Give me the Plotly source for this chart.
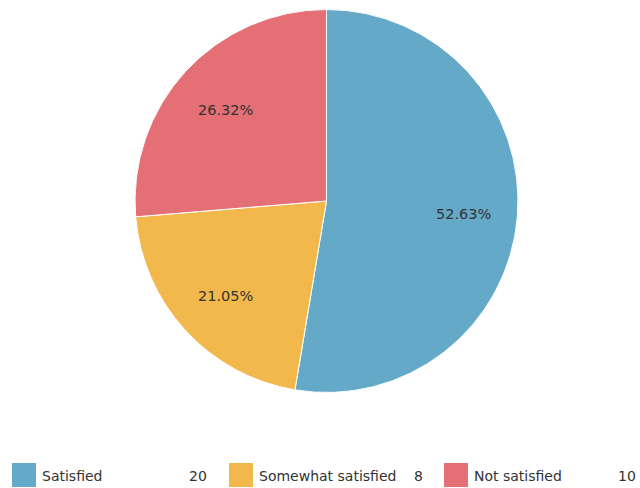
import math
import plotly.graph_objects as go

labels = ["Satisfied", "Somewhat satisfied", "Not satisfied"]
values = [20, 8, 10]
colors = ["#64a9c8", "#f2b84b", "#e46f74"]

W, H = 640, 488
cx, cy, r = 326.5, 201, 191.5

fig = go.Figure(go.Pie(
    labels=labels, values=values, sort=False, direction="clockwise", rotation=0,
    marker=dict(colors=colors, line=dict(color="white", width=1)),
    textinfo="none",
    domain=dict(x=[(cx - r) / W, (cx + r) / W], y=[1 - (cy + r) / H, 1 - (cy - r) / H]),
    showlegend=False, hoverinfo="label+value+percent",
))

annotations = []
shapes = []

# percentage labels placed along each slice's mid-angle
total = sum(values)
cum = 0
for v in values:
    mid = (cum + v / 2) / total * 2 * math.pi
    cum += v
    px = cx + 0.72 * r * math.sin(mid)
    py = cy - 0.72 * r * math.cos(mid)
    annotations.append(dict(text=f"{v / total * 100:.2f}%", xref="paper", yref="paper",
                            x=px / W, y=1 - (py + 2) / H, xanchor="center", yanchor="middle",
                            showarrow=False,
                            font=dict(family="DejaVu Sans", size=14.5, color="#333333")))

# custom legend: square, label, value
legend_x = [12, 229, 444]
value_right = [208, 424, 637]
ly = 475
for i, (lab, val, col) in enumerate(zip(labels, values, colors)):
    x0 = legend_x[i]
    shapes.append(dict(type="rect", xref="paper", yref="paper",
                       x0=x0 / W, x1=(x0 + 24) / W, y0=1 - (ly + 12) / H, y1=1 - (ly - 12) / H,
                       fillcolor=col, line=dict(width=0)))
    annotations.append(dict(text=lab, xref="paper", yref="paper", x=(x0 + 28) / W, y=1 - (ly + 1) / H,
                            xanchor="left", yanchor="middle", showarrow=False,
                            font=dict(family="DejaVu Sans", size=14, color="#333333")))
    annotations.append(dict(text=str(val), xref="paper", yref="paper", x=(value_right[i] + 1) / W,
                            y=1 - (ly + 1) / H,
                            xanchor="right", yanchor="middle", showarrow=False,
                            font=dict(family="DejaVu Sans", size=14, color="#333333")))

fig.update_layout(width=W, height=H, margin=dict(l=0, r=0, t=0, b=0),
                  paper_bgcolor="white", plot_bgcolor="white",
                  shapes=shapes, annotations=annotations)
fig.write_html("out.html", config={"displayModeBar": False},
               post_script="document.body.style.margin='0';")
